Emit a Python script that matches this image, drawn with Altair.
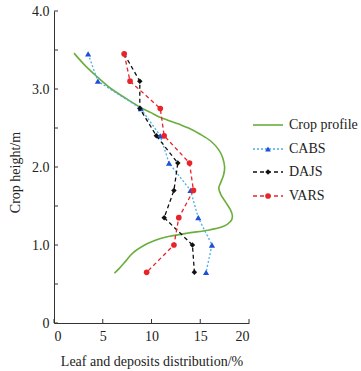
import altair as alt
import pandas as pd

# ---- data ----
heights = [3.45, 3.10, 2.75, 2.40, 2.05, 1.70, 1.35, 1.00, 0.65]
cabs = [3.5, 4.5, 8.9, 10.9, 11.8, 14.0, 14.8, 16.2, 15.6]
dajs = [7.2, 8.8, 8.8, 10.5, 12.7, 12.3, 11.3, 14.2, 14.4]
vars_ = [7.2, 7.8, 10.9, 11.3, 13.9, 14.3, 12.8, 12.3, 9.5]

profile_y = [3.46, 3.30, 3.16, 3.00, 2.87, 2.77, 2.70, 2.63, 2.55, 2.50, 2.42,
             2.33, 2.22, 2.12, 2.00, 1.90, 1.80, 1.73, 1.65, 1.55, 1.45, 1.37,
             1.30, 1.24, 1.19, 1.15, 1.10, 1.05, 1.00, 0.90, 0.80, 0.70, 0.64]
profile_x = [2.05, 3.2, 4.4, 5.9, 7.5, 8.8, 9.9, 11.0, 12.8, 13.8, 15.0,
             16.1, 16.9, 17.3, 17.5, 17.4, 17.1, 16.9, 17.1, 17.6, 18.1, 18.3,
             18.1, 17.4, 15.8, 13.6, 11.4, 10.2, 9.3, 8.1, 7.4, 6.7, 6.2]

legend_names = ["Crop profile", "CABS", "DAJS", "VARS"]
x_ticks = [0, 5, 10, 15, 20]
y_ticks = [0, 0.5, 1.0, 1.5, 2.0, 2.5, 3.0, 3.5, 4.0]

W, H = 195, 312
FONT = "Liberation Serif, DejaVu Serif, serif"

xscale = alt.Scale(domain=[0, 20], nice=False, zero=True)
yscale = alt.Scale(domain=[0, 4], nice=False, zero=True)

X = alt.X("x:Q", scale=xscale,
          axis=alt.Axis(values=x_ticks, title="Leaf and deposits distribution/%",
                        ticks=False, labelPadding=6, grid=False,
                        titleY=31, titleFontWeight="normal"))
Y = alt.Y("y:Q", scale=yscale,
          axis=alt.Axis(values=y_ticks, title="Crop height/m",
                        labelExpr="datum.value == 0 ? '0' : format(datum.value, '.1f')",
                        ticks=False, labelPadding=5, grid=False,
                        titleX=-32, titleY=161, titleFontWeight="normal"))

green = "#6aae3c"
blue_line = "#47aee6"
blue_pt = "#1d4fd8"
red = "#e8242b"
black = "#111111"

prof_df = pd.DataFrame({"x": profile_x, "y": profile_y, "i": range(len(profile_x))})
profile = alt.Chart(prof_df).mark_line(color=green, strokeWidth=1.6,
                                       interpolate="cardinal").encode(
    x=X, y=Y, order="i:Q")


def series(vals, line_color, pt_color, dash, shape, size):
    df = pd.DataFrame({"x": vals, "y": heights, "i": range(len(vals))})
    ln = alt.Chart(df).mark_line(color=line_color, strokeWidth=1.3,
                                 strokeDash=dash).encode(x=X, y=Y, order="i:Q")
    pt = alt.Chart(df).mark_point(filled=True, color=pt_color, shape=shape,
                                  size=size, opacity=1).encode(x=X, y=Y)
    return [ln, pt]


layers = [profile]
layers += series(cabs, blue_line, blue_pt, [2, 2], "triangle-up", 38)
layers += series(dajs, black, black, [4, 3], "diamond", 30)
layers += series(vars_, red, red, [4, 3], "circle", 32)

# inward ticks drawn through the scales
xt = alt.Chart(pd.DataFrame({"x": x_ticks})).mark_rule(color="#333", strokeWidth=1).encode(
    x=alt.X("x:Q", scale=xscale), y=alt.value(H), y2=alt.value(H - 4))
yt = alt.Chart(pd.DataFrame({"y": y_ticks})).mark_rule(color="#333", strokeWidth=1).encode(
    y=alt.Y("y:Q", scale=yscale), x=alt.value(0), x2=alt.value(4))
layers += [xt, yt]

# manual legend (decoration)
leg_y = [114, 138, 161, 185]
leg_styles = [
    (green, green, None, None),
    (blue_line, blue_pt, [2, 2], "triangle-up"),
    (black, black, [4, 3], "diamond"),
    (red, red, [4, 3], "circle"),
]
one = pd.DataFrame({"a": [0]})
for name, ly, (lc, pc, dash, shp) in zip(legend_names, leg_y, leg_styles):
    kw = dict(color=lc, strokeWidth=1.4 if dash else 1.6)
    if dash:
        kw["strokeDash"] = dash
    layers.append(alt.Chart(one).mark_rule(**kw).encode(
        x=alt.value(199), x2=alt.value(229), y=alt.value(ly)))
    if shp:
        layers.append(alt.Chart(one).mark_point(filled=True, color=pc, shape=shp,
                                                size=32, opacity=1).encode(
            x=alt.value(214), y=alt.value(ly)))
    layers.append(alt.Chart(pd.DataFrame({"t": [name]})).mark_text(
        align="left", baseline="middle", font=FONT, fontSize=14, color="#222").encode(
        x=alt.value(235), y=alt.value(ly), text="t:N"))

chart = alt.layer(*layers).properties(
    width=W, height=H,
    autosize=alt.AutoSizeParams(type="none"),
    padding={"left": 54, "top": 11, "right": 112, "bottom": 48},
).configure_view(stroke=None).configure_axis(
    labelFont=FONT, titleFont=FONT, labelFontSize=14, titleFontSize=14,
    labelColor="#222", titleColor="#222", domainColor="#333", domainWidth=1,
)

chart.save("out.html", embed_options={"renderer": "svg", "actions": False})
